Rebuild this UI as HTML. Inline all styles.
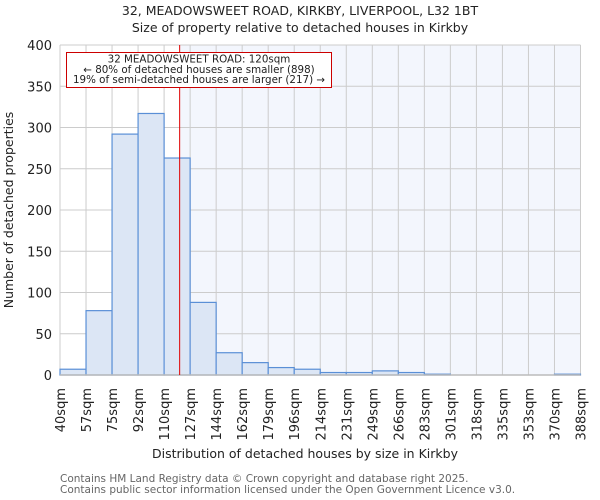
<!DOCTYPE html>
<html><head><meta charset="utf-8"><style>
html,body{margin:0;padding:0;background:#fff;}
svg{display:block;font-family:"DejaVu Sans","Liberation Sans",sans-serif;}
</style></head><body>
<svg id="chart" width="600" height="500" viewBox="0 0 600 500">
<text x="300" y="15" text-anchor="middle" font-size="12.5" fill="#222">32, MEADOWSWEET ROAD, KIRKBY, LIVERPOOL, L32 1BT</text>
<text x="300" y="32" text-anchor="middle" font-size="12.5" fill="#222">Size of property relative to detached houses in Kirkby</text>
<g id="plot"></g>
<text x="305" y="458" text-anchor="middle" font-size="12.5" fill="#222">Distribution of detached houses by size in Kirkby</text>
<text transform="translate(13,210) rotate(-90)" text-anchor="middle" font-size="12.5" fill="#222">Number of detached properties</text>
<text x="60" y="482" font-size="10.5" fill="#666">Contains HM Land Registry data © Crown copyright and database right 2025.</text>
<text x="60" y="493" font-size="10.5" fill="#666">Contains public sector information licensed under the Open Government Licence v3.0.</text>
</svg>
<script>
const categories = ["40sqm","57sqm","75sqm","92sqm","110sqm","127sqm","144sqm","162sqm","179sqm","196sqm","214sqm","231sqm","249sqm","266sqm","283sqm","301sqm","318sqm","335sqm","353sqm","370sqm","388sqm"];
const binEdges = [40,57.4,74.8,92.2,109.6,127,144.4,161.8,179.2,196.6,214,231.4,248.8,266.2,283.6,301,318.4,335.8,353.2,370.6,388];
const counts = [7,78,292,317,263,88,27,15,9,7,3,3,5,3,1,0,0,0,0,1];
const yTicks = [0,50,100,150,200,250,300,350,400];
const propertySize = 120;

const NS="http://www.w3.org/2000/svg";
const g=document.getElementById('plot');
const X0=60,X1=580.5,Y0=375,Y1=45;
const xs=v=>X0+(v-binEdges[0])/(binEdges[binEdges.length-1]-binEdges[0])*(X1-X0);
const ys=v=>Y0-(v/400)*(Y0-Y1);
function mk(t,a){const e=document.createElementNS(NS,t);for(const k in a)e.setAttribute(k,a[k]);g.appendChild(e);return e;}

const px=xs(propertySize);
let bg=mk('rect',{x:px,y:Y1,width:X1-px,height:Y0-Y1,fill:'#f3f6fd'});


binEdges.forEach(b=>{const l=mk('line',{x1:xs(b),x2:xs(b),y1:Y1,y2:Y0,stroke:'#cccccc','stroke-width':1});

});
yTicks.forEach(t=>{const l=mk('line',{x1:X0,x2:X1,y1:ys(t),y2:ys(t),stroke:'#cccccc','stroke-width':1});


const tx=mk('text',{x:X0-8,y:ys(t)+5,'text-anchor':'end','font-size':13,fill:'#222'});tx.textContent=t;

});
counts.forEach((c,i)=>{const r=mk('rect',{x:xs(binEdges[i]),y:ys(c),width:xs(binEdges[i+1])-xs(binEdges[i]),height:Y0-ys(c),fill:'#dce6f5',stroke:'#5a8fd6','stroke-width':1.2});

});
categories.forEach((c,i)=>{const x=xs(binEdges[i]);const tx=mk('text',{transform:`translate(${x+5},388) rotate(-90)`,'text-anchor':'end','font-size':13,fill:'#222'});tx.textContent=c;

});
let ax=mk('line',{x1:X0,x2:X1,y1:Y0,y2:Y0,stroke:'#bbbbbb','stroke-width':1.5});


let rl=mk('line',{x1:px,x2:px,y1:Y1,y2:Y0,stroke:'#e00000','stroke-width':1});


let box=mk('rect',{x:66.5,y:52.5,width:265,height:35,fill:'#fff',stroke:'#cc0000','stroke-width':1});


["32 MEADOWSWEET ROAD: 120sqm","← 80% of detached houses are smaller (898)","19% of semi-detached houses are larger (217) →"].forEach((s,i)=>{
const tx=mk('text',{x:199,y:62.5+i*10.3,'text-anchor':'middle','font-size':10.3,fill:'#222'});tx.textContent=s;

});
</script>
</body></html>
